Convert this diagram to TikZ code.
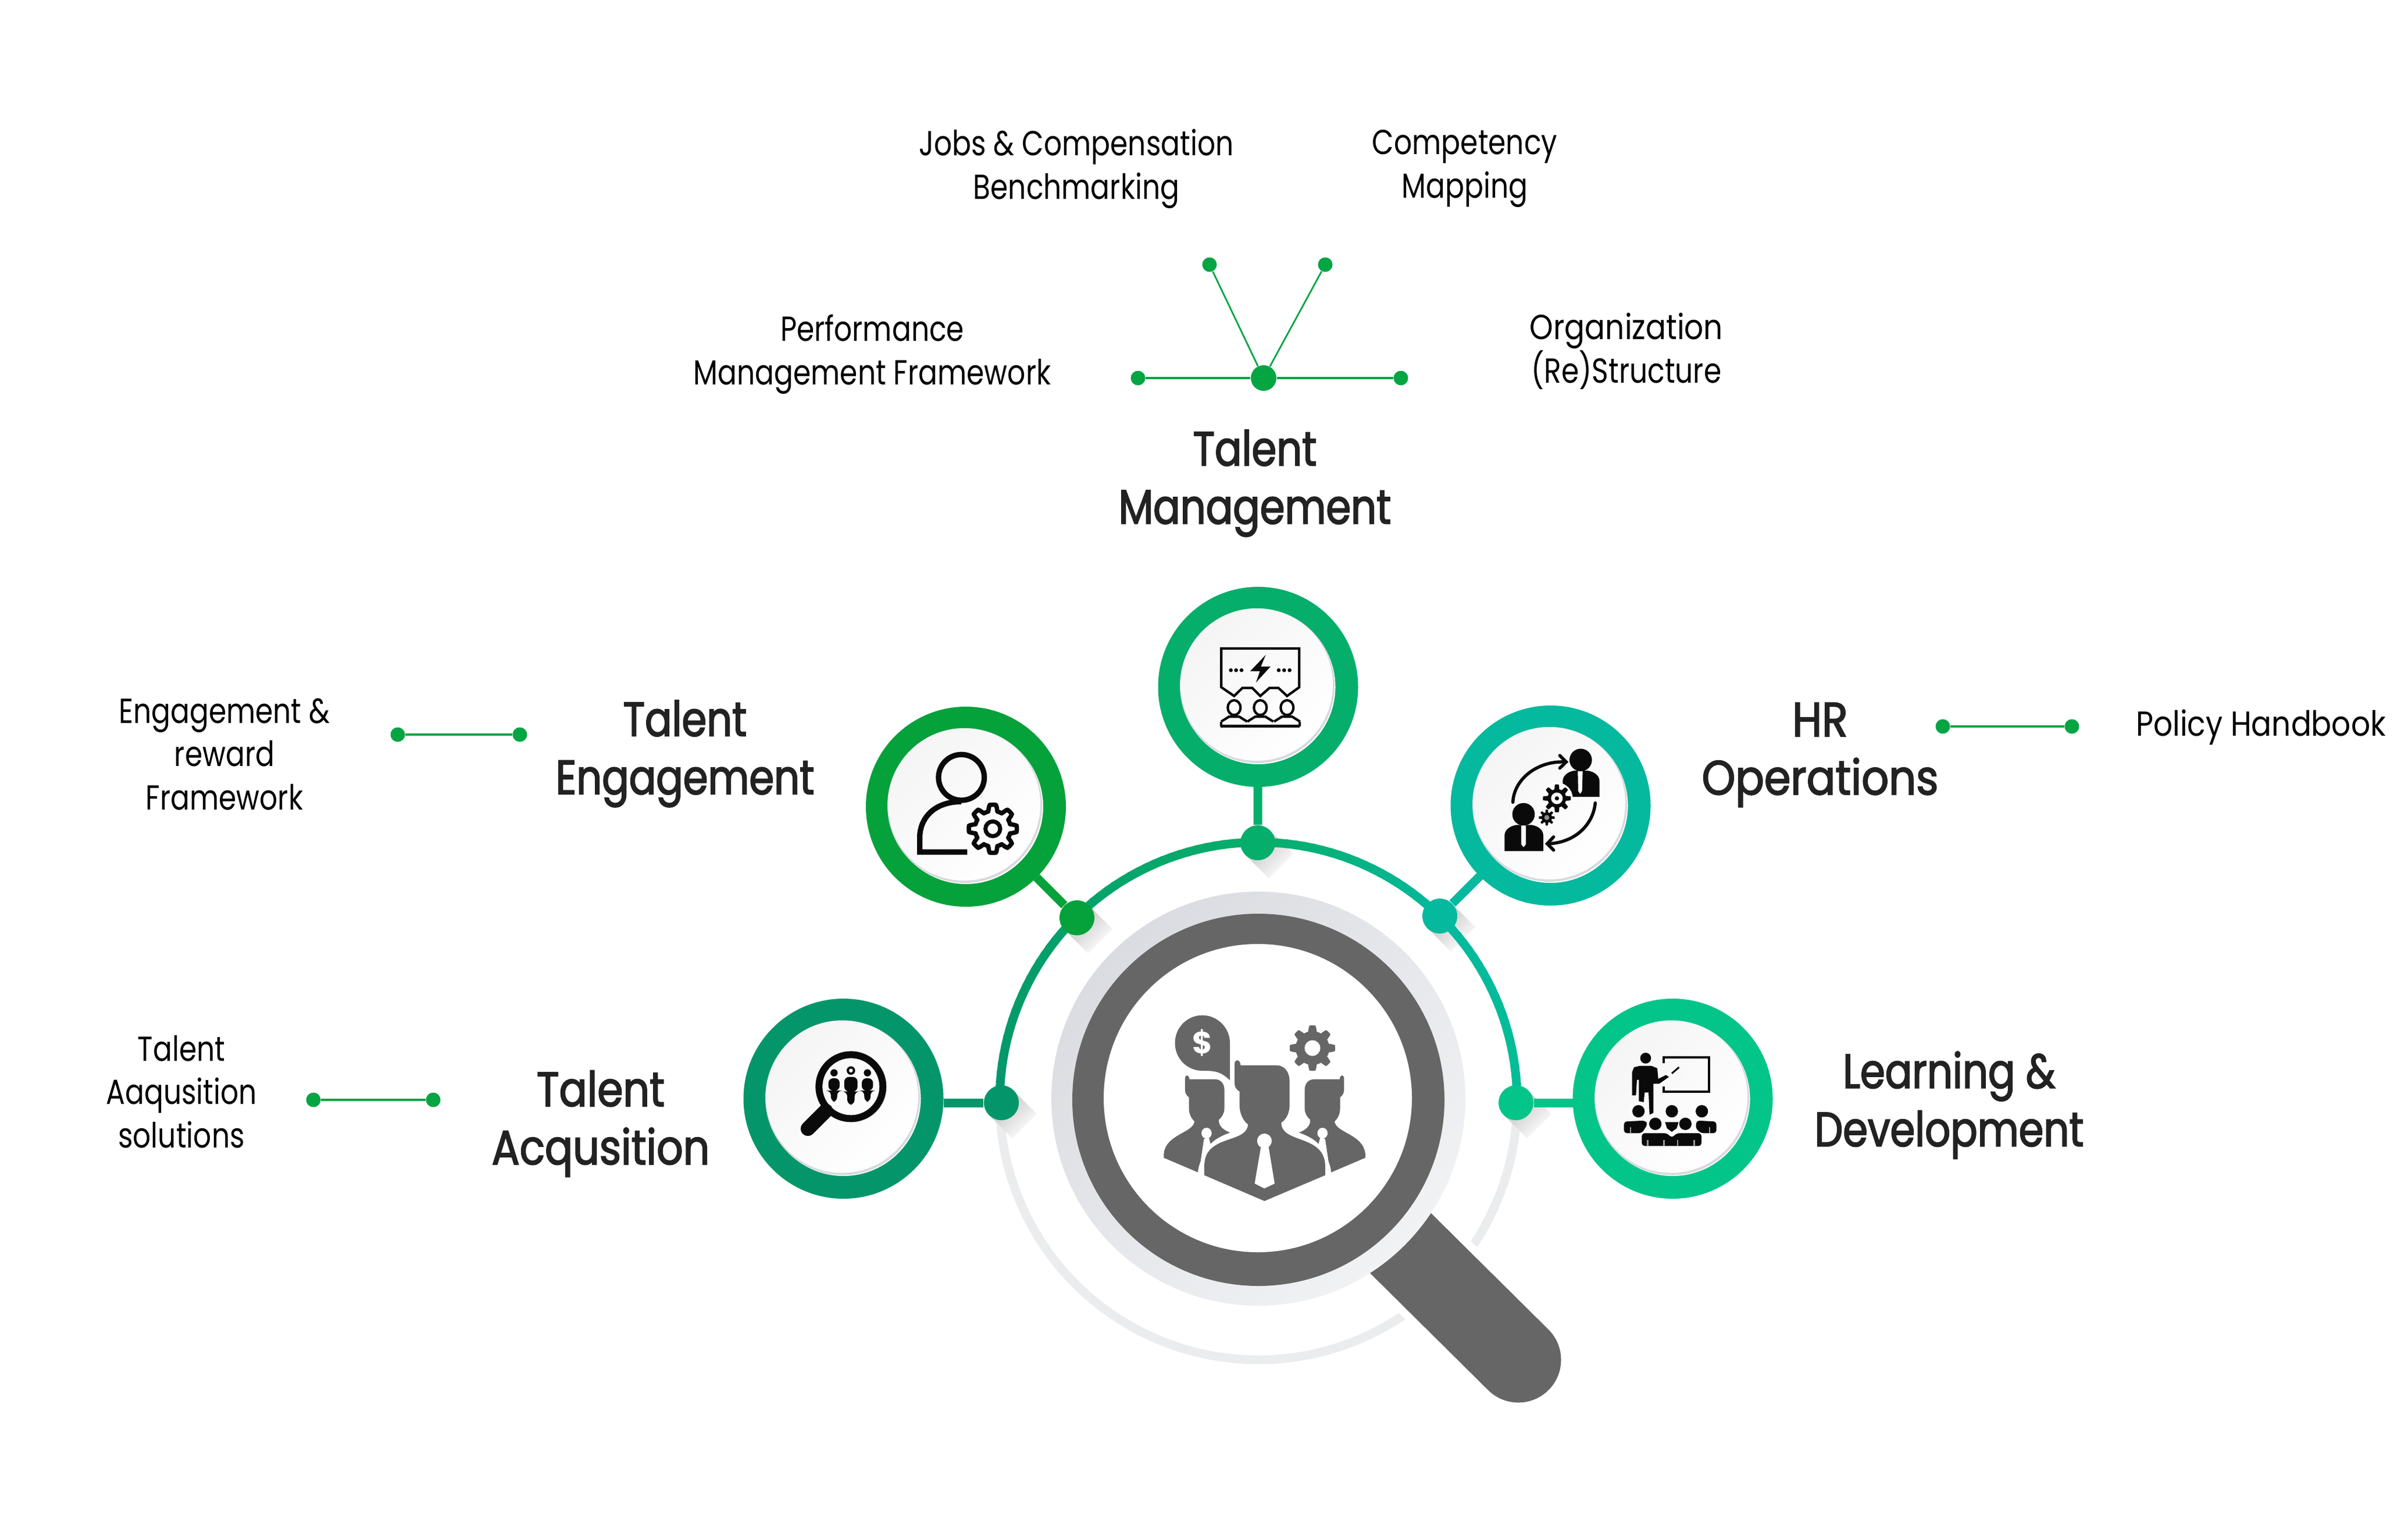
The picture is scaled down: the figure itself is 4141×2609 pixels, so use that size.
\documentclass[tikz,border=0pt]{standalone}
\usepackage{fontspec}
\setmainfont{Poppins}
\newfontfamily\headfont[FakeBold=2.2,FakeStretch=0.83]{Poppins}
\newfontfamily\headwide[FakeBold=2.2,FakeStretch=0.885]{Poppins}
\newfontfamily\headmid[FakeBold=2.2,FakeStretch=0.86]{Poppins}
\newfontfamily\bodyfont[FakeStretch=0.815]{Poppins}
\newfontfamily\bodywide[FakeStretch=0.866]{Poppins}
\newfontfamily\plainfont{Poppins}
\usetikzlibrary{calc}
\definecolor{cTM}{HTML}{06AE6B}
\definecolor{cTE}{HTML}{05A13B}
\definecolor{cHR}{HTML}{04B99E}
\definecolor{cLD}{HTML}{04C589}
\definecolor{cTA}{HTML}{04966A}
\definecolor{cLink}{HTML}{05A544}
\definecolor{cDark}{HTML}{666666}
\definecolor{cThin}{HTML}{EBECEE}
\definecolor{cHead}{HTML}{222222}
\definecolor{cIk}{HTML}{0A0A0A}
\definecolor{cDisk}{HTML}{FBFBFB}
\definecolor{cCres}{HTML}{D8D9DE}
\definecolor{cLensA}{HTML}{DBDCE1}
\definecolor{cLensB}{HTML}{F1F2F4}
\tikzset{
  ringnode/.style={circle,draw=#1,line width=3.9mm,minimum size=30.5mm,inner sep=0pt},
  bigdot/.style={circle,fill=#1,minimum size=6mm,inner sep=0pt},
  smalldot/.style={circle,fill=cLink,minimum size=2.5mm,inner sep=0pt},
  hubdot/.style={circle,fill=cLink,minimum size=4.4mm,inner sep=0pt},
  stem/.style={draw=#1,line width=1.5mm},
  linkline/.style={draw=cLink,line width=0.35mm},
  vlink/.style={draw=cLink,line width=0.28mm},
  bodytext/.style={font=\bodyfont\fontsize{17}{21.3}\selectfont,align=center,inner sep=0pt,text=black},
  headtext/.style={font=\headfont\fontsize{23.6}{28.45}\selectfont,align=center,inner sep=0pt,text=cHead},
}
\newcommand\gearshape[3]{plot[domain=0:360,samples=145,variable=\t] (\t:{#1+#2*max(min(2.2*cos(#3*\t),1),-1)})}
\newcommand\innerdisk[2]{%
  \fill[cCres] (#1,#2) circle (133);
  \shade[left color=black!4,right color=white,shading angle=45] (#1-1,#2-2) circle (131);}
\newcommand\dotshadow[1]{%
  \shade[left color=black!26,right color=white,shading angle=45]
   ($(#1)+(21,-21)$) -- ($(#1)+(-21,21)$) -- ($(#1)+(19,61)$) -- ($(#1)+(61,19)$) -- cycle;}
\newcommand\sideperson{%
  \fill[cDark] (265,1022) -- (265,1000) .. controls (275,900) and (395,895) .. (403,835)
   .. controls (385,815) and (378,790) .. (378,770) -- (378,710) .. controls (365,700) and (360,685) .. (360,670)
   -- (360,610) .. controls (362,592) and (378,592) .. (380,617) -- (495,617)
   .. controls (520,617) and (537,640) .. (537,670) -- (537,770) .. controls (537,790) and (525,815) .. (512,825)
   .. controls (510,860) and (535,880) .. (563,892) .. controls (530,905) and (495,925) .. (475,950)
   -- (467,915) -- (445,925) -- (430,1040) .. controls (420,1070) and (419,1085) .. (418,1097) -- cycle;
  \fill[white] (457,895) ellipse (23 and 28);}
\begin{document}
\begin{tikzpicture}[x=0.1mm,y=-0.1mm]
\useasboundingbox (0,0) rectangle (4141,2609);
\fill[white] (0,0) rectangle (4141,2609);
\coordinate (ctr) at (2164,1893);
\coordinate (hs) at (2300,2030);
\coordinate (he) at (2611,2338);
% thin lower arc
\draw[cThin,line width=1.5mm,shift={(ctr)}] plot[domain=0:180,samples=120] (\x:445);
% handle
\draw[white,line width=17.5mm] (hs) -- (he);
\draw[cDark,line width=14.7mm,line cap=round] (hs) -- (he);
% lens
\shade[left color=cLensA,right color=cLensB,shading angle=45] (2164,1889) circle (356);
\fill[cDark] (2164,1891) circle (320);
\fill[white] (2163,1888) circle (265);
% shadows
\coordinate (sa) at (1722,1896);\coordinate (sb) at (1852,1578);\coordinate (sc) at (2163,1449);
\coordinate (sd) at (2476,1575);\coordinate (se) at (2607,1896);
\foreach \s in {sa,sb,sc,sd,se}{\dotshadow{\s}}
% coloured arc
\foreach \a in {180,182,...,358}{
  \pgfmathsetmacro\bb{\a+2.6}
  \ifnum\a<270
    \pgfmathsetmacro\pp{(\a-180)/90*100}\colorlet{segc}{cTM!\pp!cTA}
  \else\ifnum\a<315
    \pgfmathsetmacro\pp{(\a-270)/45*100}\colorlet{segc}{cHR!\pp!cTM}
  \else
    \pgfmathsetmacro\pp{(\a-315)/45*40}\colorlet{segc}{cLD!\pp!cHR}
  \fi\fi
  \draw[segc,line width=1.5mm] ($(ctr)+(\a:445)$) -- ($(ctr)+(\bb:445)$);
}
% dots
\node[bigdot=cTA] (da) at (sa) {};
\node[bigdot=cTE] (db) at (sb) {};
\node[bigdot=cTM] (dc) at (sc) {};
\node[bigdot=cHR] (dd) at (sd) {};
\node[bigdot=cLD] (de) at (se) {};
% rings
\node[ringnode=cTA] (ta) at (1450.5,1889) {};
\node[ringnode=cTE] (te) at (1661,1387) {};
\node[ringnode=cTM] (tm) at (2163.5,1181) {};
\node[ringnode=cHR] (hr) at (2666.5,1385) {};
\node[ringnode=cLD] (ld) at (2876.5,1889) {};
\innerdisk{1449}{1887.5}\innerdisk{1659}{1385}\innerdisk{2162}{1179}\innerdisk{2665}{1383}\innerdisk{2875}{1887.5}
% stems
\draw[stem=cTA] (da) -- (ta.east |- da);
\draw[stem=cTE] (db) -- (te);
\draw[stem=cTM] (dc) -- (tm);
\draw[stem=cHR] (dd) -- (hr);
\draw[stem=cLD] (de) -- (ld.west |- de);

% ---- centre figure
\begin{scope}[shift={(1900,1650)},xscale=0.3827,yscale=0.3333]
  \sideperson
  \begin{scope}[shift={(1435,0)},xscale=-1]\sideperson\end{scope}
  \fill[cDark] (717,1245) -- (447,1112) -- (447,1060) .. controls (450,900) and (640,950) .. (643,850)
    .. controls (620,830) and (605,790) .. (605,750) -- (605,680) .. controls (590,670) and (583,655) .. (583,640)
    -- (583,535) .. controls (585,512) and (607,512) .. (610,545) -- (770,545)
    .. controls (805,545) and (830,575) .. (830,630) -- (830,750) .. controls (830,790) and (815,825) .. (793,840)
    .. controls (790,950) and (985,900) .. (990,1060) -- (990,1112) -- cycle;
  \fill[white] (717,935) ellipse (33 and 38);
  \fill[white] (702,960) -- (735,960) -- (763,1155) -- (717,1180) -- (673,1155) -- cycle;
  \fill[cDark] (438,287) .. controls (370,287) and (315,350) .. (315,430) .. controls (315,510) and (370,573) .. (438,573)
    .. controls (500,573) and (520,578) .. (562,622) -- (562,430) .. controls (562,350) and (505,287) .. (438,287) -- cycle;
  \node[text=white,inner sep=0pt,font=\plainfont\bfseries\fontsize{15}{15}\selectfont] (dollar) at (438,430) {\$};
\end{scope}
\fill[cDark,shift={(2257,1802)}] \gearshape{34}{5}{8} -- cycle;
\fill[white] (2257,1802) circle (13.5);

% ---- icon: talent acquisition
\begin{scope}[shift={(1250,1700)},scale=0.3333]
  \draw[cIk,line width=1.2mm] (640,505) circle (165);
  \draw[cIk,line width=2.5mm,line cap=round] (510,630) -- (418,722);
  \foreach \c/\k in {640/1,553/0.85,725/0.85}{
    \begin{scope}[shift={(\c,500)},scale=\k]
      \fill[cIk] (0,-78) circle (22);
      \fill[cIk,rounded corners=0.8mm] (-34,-45) -- (34,-45) -- (34,30) -- (20,30) -- (18,98) -- (-18,98) -- (-20,30) -- (-34,30) -- cycle;
    \end{scope}}
  \fill[white] (640,422) circle (10);
\end{scope}

% ---- icon: talent engagement
\begin{scope}[shift={(1450,1200)},scale=0.3333]
  \draw[cIk,line width=0.93mm] (610,410) circle (118);
  \draw[cIk,line width=0.93mm] (640,795) -- (395,795) -- (395,720) .. controls (395,620) and (470,535) .. (610,535);
  \draw[cIk,line width=0.75mm,shift={(772,675)},line join=round] \gearshape{108}{16}{8} -- cycle;
  \draw[cIk,line width=0.7mm] (772,675) circle (38);
\end{scope}

% ---- icon: talent management
\begin{scope}[shift={(1950,1000)},scale=0.3333]
  \draw[cIk,line width=0.42mm] (451,545) -- (451,345) -- (853,345) -- (853,545) -- (790,590) -- (745,548) -- (700,548) -- (652,590) -- (610,548) -- (560,548) -- (517,590) -- cycle;
  \fill[cIk] (680,378) -- (600,462) -- (650,462) -- (630,520) -- (705,438) -- (655,438) -- cycle;
  \foreach \x in {500,527,555,747,775,803}{\fill[cIk] (\x,457) circle (10);}
  \foreach \x in {517,652,790}{
    \draw[cIk,line width=0.42mm] (\x,650) ellipse (33 and 38);
    \draw[cIk,line width=0.42mm] (\x-67,722) -- (\x-27,697) -- (\x+27,697) -- (\x+67,722);}
  \draw[cIk,line width=0.5mm] (448,746) -- (855,746);
  \draw[cIk,line width=0.42mm] (450,746) -- (450,722);\draw[cIk,line width=0.42mm] (855,746) -- (855,722);
\end{scope}

% ---- icon: HR operations
\begin{scope}[shift={(2470,1200)},scale=0.3333]
  \fill[cIk] (745,320) circle (58);
  \fill[cIk] (652,510) -- (652,430) .. controls (652,400) and (680,380) .. (712,375) -- (780,375) .. controls (815,380) and (842,400) .. (842,430) -- (842,510) -- cycle;
  \fill[cDisk] (730,378) -- (755,378) -- (752,480) -- (742,495) -- (732,480) -- cycle;
  \fill[cIk] (450,600) circle (58);
  \fill[cIk] (352,790) -- (352,710) .. controls (352,680) and (380,660) .. (415,655) -- (490,655) .. controls (525,660) and (552,680) .. (552,710) -- (552,790) -- cycle;
  \fill[cDisk] (438,658) -- (462,658) -- (462,755) -- (450,770) -- (438,755) -- cycle;
  \fill[cDisk] (622,518) circle (82);
  \fill[cIk,shift={(622,518)}] \gearshape{60}{12}{8} -- cycle;
  \fill[cDisk] (622,518) circle (30);\fill[cIk] (622,518) circle (11);
  \fill[cIk,shift={(570,617)}] \gearshape{34}{7}{8} -- cycle;
  \fill[black!45] (570,617) circle (13);
  \draw[cIk,line width=0.55mm,line cap=round] (395,538) .. controls (400,420) and (520,325) .. (660,330);
  \draw[cIk,line width=0.55mm,line cap=round] (637,297) -- (670,330) -- (637,362);
  \draw[cIk,line width=0.55mm,line cap=round] (820,542) .. controls (810,650) and (720,745) .. (580,752);
  \draw[cIk,line width=0.55mm,line cap=round] (605,717) -- (572,752) -- (605,785);
\end{scope}

% ---- icon: learning
\begin{scope}[shift={(2680,1700)},scale=0.3333]
  \fill[cIk] (450,358) circle (28);
  \fill[cIk] (380,550) -- (400,550) -- (405,470) -- (415,470) -- (415,580) -- (440,585) -- (445,535) -- (465,535) -- (470,650) -- (490,640) -- (490,490) -- (520,490) -- (570,455) -- (555,445) -- (515,465) -- (510,410) -- (480,398) -- (420,398) -- (390,405) -- (380,430) -- cycle;
  \draw[cIk,line width=0.4mm] (542,385) -- (542,355) -- (778,355) -- (778,530) -- (542,530) -- (542,505);
  \draw[cIk,line width=0.3mm] (585,437) -- (622,405);
  \fill[cDisk] (413,632) circle (50);
  \foreach \x/\y in {413/632,585/632,740/632,500/697,655/697}{\fill[cIk] (\x,\y) circle (32);}
  \fill[cIk,rounded corners=0.5mm] (338,745) -- (338,685) -- (450,680) -- (460,700) -- (430,745) -- cycle;
  \fill[cIk,rounded corners=0.5mm] (815,745) -- (815,685) -- (712,680) -- (708,720) -- (735,745) -- cycle;
  \fill[cIk] (550,688) -- (620,688) -- (610,720) -- (585,738) -- (560,720) -- cycle;
  \fill[cIk,rounded corners=0.5mm] (430,811) -- (430,745) -- (560,745) -- (585,770) -- (610,745) -- (738,745) -- (738,811) -- cycle;
  \foreach \x in {460,545,615,700}{\fill[black!40] (\x-4,780) rectangle (\x+4,811);}
  \foreach \x in {372,780}{\fill[black!40] (\x-4,715) rectangle (\x+4,745);}
\end{scope}

% ---- links
\node[hubdot] (hub) at (2173,650) {};
\node[smalldot] (pl) at (1957,650) {};
\node[smalldot] (pr) at (2409,650) {};
\node[smalldot] (pu) at (2080,455) {};
\node[smalldot] (pv) at (2279,455) {};
\draw[linkline] (hub) -- (pl);
\draw[linkline] (hub) -- (pr);
\draw[vlink] (hub) -- (pu);
\draw[vlink] (hub) -- (pv);
\node[smalldot] (ea) at (684,1263) {};
\node[smalldot] (eb) at (894,1263) {};
\draw[linkline] (ea) -- (eb);
\node[smalldot] (ha) at (3341,1249) {};
\node[smalldot] (hb) at (3563,1249) {};
\draw[linkline] (ha) -- (hb);
\node[smalldot] (aa) at (539,1891) {};
\node[smalldot] (ab) at (745,1891) {};
\draw[linkline] (aa) -- (ab);

% ---- text
\node[bodytext] (t1) at (1851,290) {Jobs \& Compensation\\Benchmarking};
\node[bodytext] (t2) at (2519,290) {Competency\\Mapping};
\node[bodytext] (t3) at (1500,609) {Performance\\Management Framework};
\node[bodytext] (t4) at (2797,604) {{\bodywide Organization}\\(Re)Structure};
\node[bodytext] (t5) at (386,1297) {Engagement \&\\reward\\Framework};
\node[bodytext] (t6) at (312,1877) {Talent\\Aaqusition\\solutions};
\node[bodytext,font=\bodywide\fontsize{17}{21.3}\selectfont] (t7) at (3888,1250) {Policy Handbook};
\node[headtext] (h1) at (2158,831) {Talent\\Management};
\node[headtext] (h2) at (1178,1296) {Talent\\Engagement};
\node[headtext,font=\headwide\fontsize{23.6}{28.45}\selectfont] (h3) at (3130,1298) {HR\\Operations};
\node[headtext] (h4) at (3352,1900) {Learning \&\\Development};
\node[headtext,font=\headmid\fontsize{23.6}{28.45}\selectfont] (h5) at (1033,1932) {Talent\\Acqusition};
\end{tikzpicture}
\end{document}
